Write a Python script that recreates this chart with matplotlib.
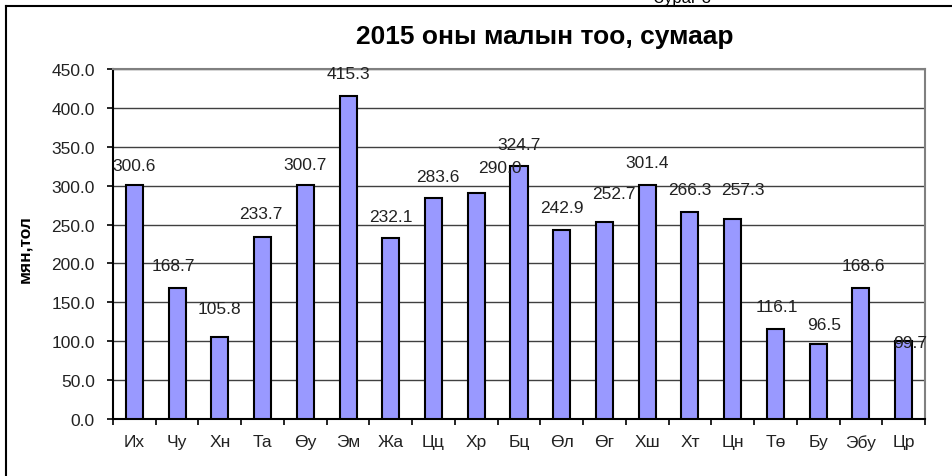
import matplotlib
matplotlib.use("Agg")
import matplotlib.pyplot as plt
from matplotlib.lines import Line2D
from matplotlib.ticker import FixedLocator, FormatStrFormatter, NullFormatter
import numpy as np

plt.rcParams['font.family'] = ['Liberation Sans', 'DejaVu Sans']

categories = ["Их", "Чу", "Хн", "Та", "Өу", "Эм", "Жа", "Цц", "Хр", "Бц",
              "Өл", "Өг", "Хш", "Хт", "Цн", "Тө", "Бу", "Эбу", "Цр"]
values = [300.6, 168.7, 105.8, 233.7, 300.7, 415.3, 232.1, 283.6, 290.0, 324.7,
          242.9, 252.7, 301.4, 266.3, 257.3, 116.1, 96.5, 168.6, 99.7]
title = "2015 оны малын тоо, сумаар"
ylabel = "мян,тол"
caption = "Зураг 3"

# label offsets in points (dx, dy) to mimic the reference placement
label_offsets = [(0, 14), (-3, 16), (0, 20), (-1, 17), (0, 15), (0, 16), (0, 16),
                 (3, 16), (17, 19), (0, 16), (0, 16), (7, 21), (0, 16), (0, 16),
                 (7, 21), (1, 16), (4, 14), (2, 16), (5, -1)]

W, H = 953, 477
fig = plt.figure(figsize=(W / 100, H / 100), dpi=100)
fig.patch.set_facecolor("white")

ax = fig.add_axes([113 / W, 1 - 420 / H, (925 - 113) / W, (420 - 70) / H])
x = np.arange(len(categories))
bars = ax.bar(x, values, width=0.4, color="#9999FF", edgecolor="black",
              linewidth=1.5, zorder=3)

ax.set_xlim(-0.5, len(categories) - 0.5)
ax.set_ylim(0, 450)
ax.yaxis.set_major_locator(FixedLocator(np.arange(0, 451, 50)))
ax.yaxis.set_major_formatter(FormatStrFormatter("%.1f"))
ax.grid(axis="y", color="#404040", linewidth=1.0, zorder=0)
ax.set_axisbelow(True)

ax.set_xticks(x)
ax.set_xticklabels(categories)
ax.set_xticks(np.arange(-0.5, len(categories), 1.0), minor=True)
ax.tick_params(axis="x", which="major", length=0, pad=11, labelsize=12.5)
ax.tick_params(axis="x", which="minor", length=4, width=1.2, direction="out")
ax.tick_params(axis="y", length=4, width=1.2, pad=9, labelsize=12.5, colors="black")
ax.xaxis.set_minor_formatter(NullFormatter())
for lab in ax.get_xticklabels() + ax.get_yticklabels():
    lab.set_color("#222222")

ax.spines["left"].set_color("black")
ax.spines["left"].set_linewidth(1.5)
ax.spines["bottom"].set_color("black")
ax.spines["bottom"].set_linewidth(1.5)
ax.spines["top"].set_color("#808080")
ax.spines["top"].set_linewidth(1.5)
ax.spines["right"].set_color("#808080")
ax.spines["right"].set_linewidth(1.5)

for xi, v, (dx, dy) in zip(x, values, label_offsets):
    ax.annotate(f"{v:.1f}", xy=(xi, v), xytext=(dx, dy), textcoords="offset points",
                ha="center", va="center", fontsize=12.5, color="#222222", zorder=4)

fig.text(545 / W, 1 - 37 / H, title, ha="center", va="center",
         fontsize=19, fontweight="bold", color="black")
fig.text(25 / W, 1 - 249 / H, ylabel, ha="center", va="center", rotation=90,
         fontsize=12.5, fontweight="bold", color="black")
fig.text(683 / W, 1 - 3 / H, caption, ha="center", va="baseline",
         fontsize=12, color="black")

fig.add_artist(Line2D([6 / W, 1], [1 - 7 / H, 1 - 7 / H], color="black", lw=1.5,
                      transform=fig.transFigure))
fig.add_artist(Line2D([6 / W, 6 / W], [0, 1 - 7 / H], color="black", lw=1.5,
                      transform=fig.transFigure))

fig.savefig("out.png", dpi=100, facecolor="white")
